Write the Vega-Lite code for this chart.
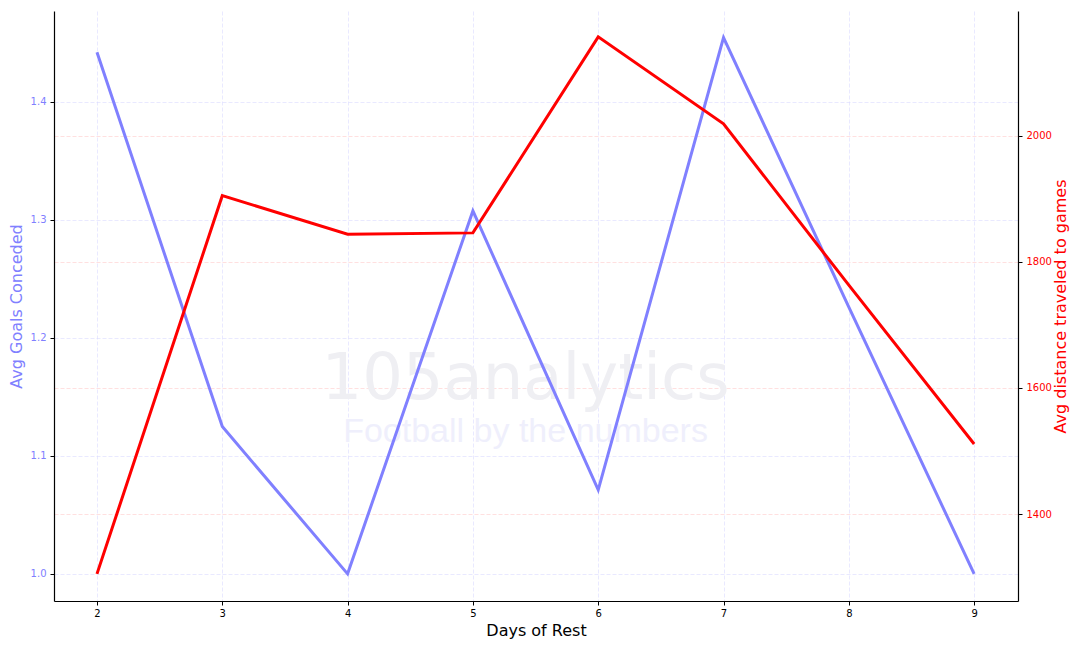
{
  "$schema": "https://vega.github.io/schema/vega-lite/v6.json",
  "width": 964,
  "height": 590,
  "autosize": {"type": "none"},
  "padding": {"left": 54, "top": 11, "right": 62, "bottom": 47},
  "background": "white",
  "config": {"view": {"stroke": null}, "font": "DejaVu Sans"},
  "datasets": {
    "main": [
      {"day": 2, "goals": 1.442, "dist": 1305},
      {"day": 3, "goals": 1.1248, "dist": 1905},
      {"day": 4, "goals": 1.0, "dist": 1844},
      {"day": 5, "goals": 1.3076, "dist": 1846},
      {"day": 6, "goals": 1.0712, "dist": 2157},
      {"day": 7, "goals": 1.4545, "dist": 2019},
      {"day": 8, "goals": 1.226, "dist": 1763},
      {"day": 9, "goals": 1.0, "dist": 1511}
    ]
  },
  "encoding": {
    "x": {
      "field": "day", "type": "quantitative",
      "scale": {"domain": [1.657, 9.35], "nice": false, "zero": false},
      "axis": {
        "values": [2, 3, 4, 5, 6, 7, 8, 9], "format": "d",
        "title": "Days of Rest", "titleFontSize": 16, "titleFontWeight": "normal", "titleColor": "black", "titlePadding": 4,
        "labelFontSize": 10, "labelColor": "black", "labelPadding": 3,
        "tickColor": "black", "tickSize": 4, "domainColor": "black", "domainWidth": 1.2,
        "grid": true, "gridColor": "#d8d8ff", "gridDash": [4, 2], "gridWidth": 0.7, "gridOpacity": 0.8
      }
    }
  },
  "layer": [
    {
      "data": {"values": [{"day": 5.42, "g": 1.164, "t": "105analytics"}]},
      "mark": {"type": "text", "fontSize": 64, "font": "DejaVu Sans", "color": "#efeff3", "baseline": "middle", "align": "center"},
      "encoding": {
        "y": {"field": "g", "type": "quantitative", "scale": {"domain": [0.977, 1.477], "nice": false, "zero": false}, "axis": null},
        "text": {"field": "t"}
      }
    },
    {
      "data": {"values": [{"day": 5.42, "g": 1.12, "t": "Football by the numbers"}]},
      "mark": {"type": "text", "fontSize": 34, "font": "Liberation Sans", "color": "#efeffc", "baseline": "middle", "align": "center"},
      "encoding": {
        "y": {"field": "g", "type": "quantitative", "scale": {"domain": [0.977, 1.477], "nice": false, "zero": false}, "axis": null},
        "text": {"field": "t"}
      }
    },
    {
      "data": {"name": "main"},
      "mark": {"type": "line", "color": "#8080ff", "strokeWidth": 3},
      "encoding": {
        "y": {
          "field": "goals", "type": "quantitative",
          "scale": {"domain": [0.977, 1.477], "nice": false, "zero": false},
          "axis": {
            "orient": "left", "values": [1.0, 1.1, 1.2, 1.3, 1.4], "format": ".1f",
            "title": "Avg Goals Conceded", "titleFontSize": 16, "titleFontWeight": "normal", "titleColor": "#8080ff", "titlePadding": 6,
            "labelFontSize": 10, "labelColor": "#8080ff", "labelPadding": 4,
            "tickColor": "black", "tickSize": 4, "domainColor": "black", "domainWidth": 1.2,
            "grid": true, "gridColor": "#d8d8ff", "gridDash": [4, 2], "gridWidth": 0.7, "gridOpacity": 0.8
          }
        }
      }
    },
    {
      "data": {"name": "main"},
      "mark": {"type": "line", "color": "#ff0000", "strokeWidth": 3},
      "encoding": {
        "y": {
          "field": "dist", "type": "quantitative",
          "scale": {"domain": [1262, 2198], "nice": false, "zero": false},
          "axis": {
            "orient": "right", "values": [1400, 1600, 1800, 2000], "format": "d",
            "title": "Avg distance traveled to games", "titleAngle": 270, "titleFontSize": 16, "titleFontWeight": "normal", "titleColor": "#ff0000", "titlePadding": 17,
            "labelFontSize": 10, "labelColor": "#ff0000", "labelPadding": 4,
            "tickColor": "black", "tickSize": 4, "domainColor": "black", "domainWidth": 1.2,
            "grid": true, "gridColor": "#ffc8c8", "gridDash": [4, 2], "gridWidth": 0.7, "gridOpacity": 0.8
          }
        }
      }
    }
  ],
  "resolve": {"scale": {"y": "independent"}, "axis": {"y": "independent"}}
}
